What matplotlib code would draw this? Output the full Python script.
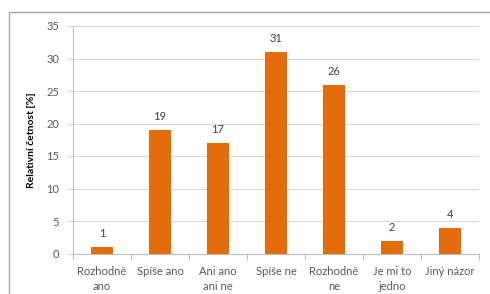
import matplotlib
matplotlib.use("Agg")
import matplotlib.pyplot as plt
from matplotlib.patches import Rectangle

categories = ["Rozhodně\nano", "Spíše ano", "Ani ano\nani ne", "Spíše ne", "Rozhodně\nne", "Je mi to\njedno", "Jiný názor"]
values = [1, 19, 17, 31, 26, 2, 4]
yticks = [0, 5, 10, 15, 20, 25, 30, 35]

plt.rcParams['font.family'] = ['Lato', 'DejaVu Sans']
W, H = 490, 294
fig = plt.figure(figsize=(W/100, H/100), dpi=100)
ax = fig.add_axes([73/W, 1-253.5/H, (479-73)/W, (253.5-26)/H])

# outer chart border
fig.patches.append(Rectangle((9/W, -0.1), 1.0, 1-12/H+0.1, transform=fig.transFigure,
                             fill=False, edgecolor='#a6a6a6', linewidth=1.0))

x = list(range(len(categories)))
ax.bar(x, values, width=0.38, color='#E46C0A', zorder=3)
for xi, v in zip(x, values):
    ax.text(xi, v + 1.2, str(v), ha='center', va='bottom', fontsize=8, color='#404040')

ax.set_xlim(-0.5, len(categories) - 0.5)
ax.set_ylim(0, 35)
ax.set_yticks(yticks)
ax.set_yticklabels([str(t) for t in yticks], fontsize=8, color='#595959')
ax.yaxis.grid(True, color='#d9d9d9', linewidth=0.8, zorder=0)
ax.tick_params(axis='y', length=4, color='#d9d9d9', pad=6)
ax.set_xticks([i - 0.5 for i in range(len(categories) + 1)], minor=False)
ax.set_xticklabels([''] * (len(categories) + 1))
ax.set_xticks(x, minor=True)
ax.set_xticklabels(categories, minor=True, fontsize=8, color='#595959', linespacing=1.45)
ax.tick_params(axis='x', which='major', length=4, color='#bfbfbf')
ax.tick_params(axis='x', which='minor', length=0, pad=9)
for s in ['top', 'right']:
    ax.spines[s].set_visible(False)
ax.spines['left'].set_color('#bfbfbf')
ax.spines['bottom'].set_color('#bfbfbf')
ax.set_ylabel('Relativní četnost [%]', fontsize=7.5, fontweight='bold', color='#000000', labelpad=7)

fig.savefig('out.png', dpi=100)
